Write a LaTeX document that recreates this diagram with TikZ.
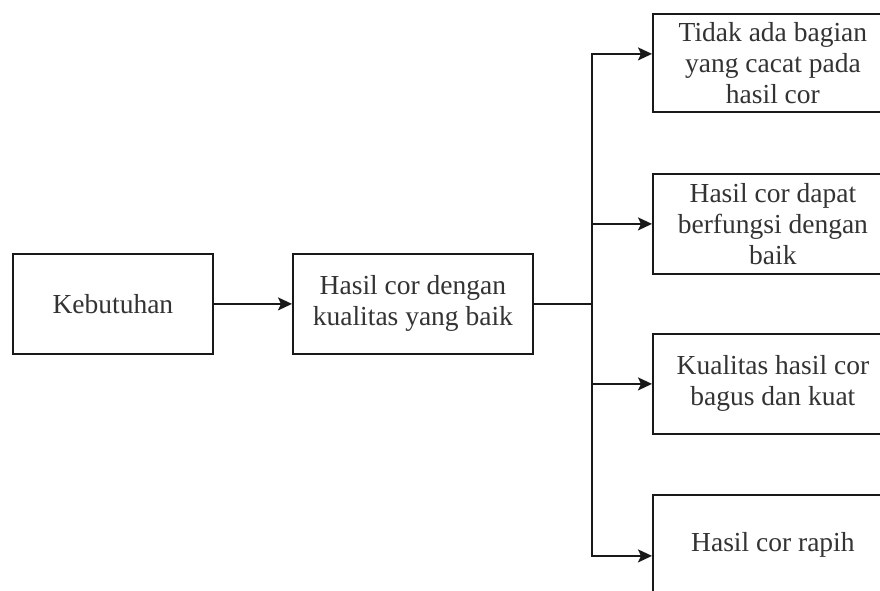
\documentclass[tikz,border=0pt]{standalone}
\usepackage{fontspec}
\setmainfont{Liberation Serif}
\usetikzlibrary{arrows.meta,calc}
\begin{document}
\begin{tikzpicture}[x=1pt,y=-1pt,
  box/.style={draw=black!90,line width=1.8pt,minimum width=240pt,minimum height=100pt,
    inner sep=0pt,align=center,font=\fontsize{27.5}{31}\selectfont,text=black!80},
  link/.style={draw=black!90,line width=1.8pt},
  arrow/.style={link,-{Stealth[length=14pt,width=13pt,inset=3pt]}}]
\useasboundingbox (0,0) rectangle (880,590);
\clip (0,0) rectangle (880,590);
\fill[white] (0,0) rectangle (880,590);
% left column
\node[box,minimum width=200pt,anchor=north west] (need) at (12,253) {Kebutuhan};
\node[box,anchor=north west] (goal) at (292,253) {Hasil cor dengan\\kualitas yang baik};
% right column
\node[box,anchor=north west,minimum height=98pt] (r1) at (652,13) {Tidak ada bagian\\yang cacat pada\\hasil cor};
\node[box,anchor=north west] (r2) at (652,173) {Hasil cor dapat\\berfungsi dengan\\baik};
\node[box,anchor=north west] (r3) at (652,333) {Kualitas hasil cor\\bagus dan kuat};
\node[box,anchor=north west] (r4) at (652,494) {Hasil cor rapih};
% connectors
\coordinate (j) at (goal.east -| 592,0);
\draw[arrow] (need.east) -- (goal.west);
\draw[link] (goal.east) -- (j);
\draw[arrow] (j) |- ($(r1.west)+(0,-9)$);
\draw[arrow] (j) |- (r2.west);
\draw[arrow] (j) |- (r3.west);
\draw[arrow] (j) |- ($(r4.west)+(0,11)$);
\end{tikzpicture}
\end{document}
